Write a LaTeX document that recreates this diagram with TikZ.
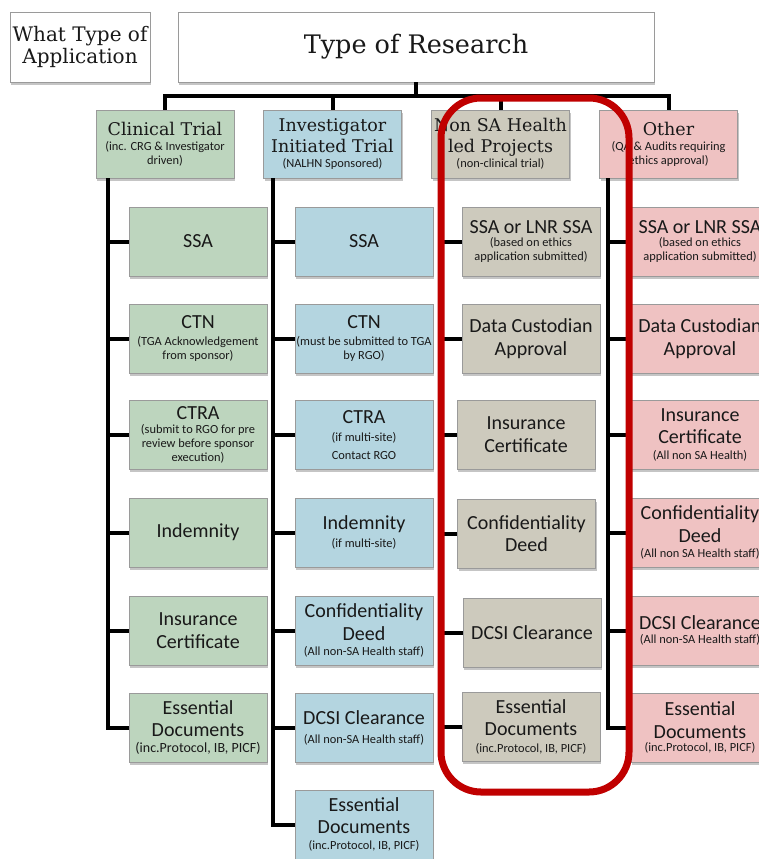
\documentclass[tikz,border=0pt]{standalone}
\usepackage{fontspec}
\setmainfont{Carlito}
\newfontfamily\slabfont{DejaVu Serif}
\usetikzlibrary{calc,shadows}

\definecolor{ctgreen}{HTML}{BDD5BE}
\definecolor{itblue}{HTML}{B4D5E0}
\definecolor{nsgrey}{HTML}{CDCABD}
\definecolor{otpink}{HTML}{EFC2C2}
\definecolor{ringred}{HTML}{C00000}
\definecolor{edgegrey}{HTML}{9A9A9A}

\newcommand{\titletxt}{\slabfont\fontsize{20}{23}\selectfont}
\newcommand{\headtxt}{\slabfont\fontsize{17.5}{21}\selectfont}
\newcommand{\itemtxt}{\fontsize{20}{22.5}\selectfont}
\newcommand{\notetxt}{\fontsize{12.4}{14}\selectfont}
\newcommand{\twopart}[3][3pt]{{\itemtxt #2\par}\vspace{#1}{\notetxt #3\par}}
\newcommand{\headpart}[2]{{\headtxt #1\par}\vspace{1pt}{\notetxt #2\par}}

\tikzset{
    box/.style={draw=edgegrey, line width=0.8pt, align=flush center, inner sep=1pt,
        minimum width=138pt, minimum height=69pt, text width=136pt, text=black!90,
        font=\itemtxt,
        drop shadow={shadow xshift=1pt, shadow yshift=-2.5pt, fill=black!45}},
    headbox/.style={box, minimum height=68pt},
    trunk/.style={line width=4pt, black},
    ring/.style={line width=7pt, ringred, rounded corners=40pt}
}

\begin{document}
\begin{tikzpicture}[x=1pt, y=-1pt]

\fill[white] (0,0) rectangle (759,859);
\useasboundingbox (0,0) rectangle (759,859);

% Top boxes
\node[box, fill=white, minimum width=140pt, minimum height=70pt, text width=138pt] (wta) at (80,47)
    {\titletxt What Type of\\Application};
\node[box, fill=white, minimum width=476pt, minimum height=70pt, text width=470pt] (tor) at (416,47)
    {\slabfont\fontsize{25.5}{30}\selectfont Type of Research};

% Research types
\node[headbox, fill=ctgreen] (ct) at (165,144)
    {\headpart{Clinical Trial}{(inc. CRG \& Investigator\\driven)}};
\node[headbox, fill=itblue] (it) at (332.5,144)
    {\headpart{Investigator\\Initiated Trial}{(NALHN Sponsored)}};
\node[headbox, fill=nsgrey] (ns) at (500.5,144)
    {\headpart{Non SA Health\\led Projects}{(non-clinical trial)}};
\node[headbox, fill=otpink] (ot) at (668.5,144)
    {\headpart{Other}{(QA \& Audits requiring\\ethics approval)}};

% Clinical Trial column
\node[box, fill=ctgreen] (ct1) at (198,241.5) {SSA};
\node[box, fill=ctgreen] (ct2) at (198,338.5)
    {\twopart{CTN}{(TGA Acknowledgement\\from sponsor)}};
\node[box, fill=ctgreen] (ct3) at (198,435)
    {\twopart[0pt]{CTRA}{(submit to RGO for pre\\review before sponsor\\execution)}};
\node[box, fill=ctgreen] (ct4) at (198,532.5) {Indemnity};
\node[box, fill=ctgreen] (ct5) at (198,630.5) {Insurance\\Certificate};
\node[box, fill=ctgreen] (ct6) at (198,727.5)
    {\twopart[0pt]{Essential\\Documents}{\fontsize{14}{16}\selectfont(inc.Protocol, IB, PICF)}};

% Investigator Initiated Trial column
\node[box, fill=itblue] (it1) at (364,241.5) {SSA};
\node[box, fill=itblue] (it2) at (364,338.5)
    {\twopart{CTN}{(must be submitted to TGA\\by RGO)}};
\node[box, fill=itblue] (it3) at (364,435)
    {\twopart[4pt]{CTRA}{(if multi-site)\\[4pt]Contact RGO}};
\node[box, fill=itblue] (it4) at (364,532.5)
    {\twopart[4pt]{Indemnity}{(if multi-site)}};
\node[box, fill=itblue] (it5) at (364,630.5)
    {\twopart[1pt]{Confidentiality\\Deed}{(All non-SA Health staff)}};
\node[box, fill=itblue] (it6) at (364,727.5)
    {\twopart[5pt]{DCSI Clearance}{(All non-SA Health staff)}};
\node[box, fill=itblue] (it7) at (364,824.5)
    {\twopart[2pt]{Essential\\Documents}{(inc.Protocol, IB, PICF)}};

% Non SA Health column
\node[box, fill=nsgrey] (ns1) at (531,241.5)
    {\twopart[-1pt]{SSA or LNR SSA}{(based on ethics\\application submitted)}};
\node[box, fill=nsgrey] (ns2) at (531,338.5) {Data Custodian\\Approval};
\node[box, fill=nsgrey] (ns3) at (526,434.5) {Insurance\\Certificate};
\node[box, fill=nsgrey] (ns4) at (526.5,533.5) {Confidentiality\\Deed};
\node[box, fill=nsgrey] (ns5) at (532,632.5) {DCSI Clearance};
\node[box, fill=nsgrey] (ns6) at (531,727)
    {\twopart[3pt]{Essential\\Documents}{(inc.Protocol, IB, PICF)}};

% Other column
\node[box, fill=otpink] (ot1) at (700,241.5)
    {\twopart[-1pt]{SSA or LNR SSA}{(based on ethics\\application submitted)}};
\node[box, fill=otpink] (ot2) at (700,338.5) {Data Custodian\\Approval};
\node[box, fill=otpink] (ot3) at (700,435)
    {\twopart[2pt]{Insurance\\Certificate}{(All non SA Health)}};
\node[box, fill=otpink] (ot4) at (700,532.5)
    {\twopart[1pt]{Confidentiality\\Deed}{(All non SA Health staff)}};
\node[box, fill=otpink] (ot5) at (700,630.5)
    {\twopart[0pt]{DCSI Clearance}{(All non-SA Health staff)}};
\node[box, fill=otpink] (ot6) at (700,727.5)
    {\twopart[-1pt]{Essential\\Documents}{(inc.Protocol, IB, PICF)}};

% Top connectors
\draw[trunk] (tor.south) -- ++(0,14) coordinate (hub);
\draw[trunk] (hub) -| (ct.north);
\draw[trunk] (hub) -| (it.north);
\draw[trunk] (hub) -| (ns.north);
\draw[trunk] (hub) -| (ot.north);

% Column trunks
\coordinate (ctroot) at ($(ct.south west)+(12,0)$);
\coordinate (itroot) at ($(it.south west)+(10,0)$);
\coordinate (nsroot) at ($(ns.south west)+(10,0)$);
\coordinate (otroot) at ($(ot.south west)+(9,0)$);
\draw[trunk] (ctroot) |- (ct1.west) (ctroot) |- (ct2.west) (ctroot) |- (ct3.west)
    (ctroot) |- (ct4.west) (ctroot) |- (ct5.west) (ctroot) |- (ct6.west);
\draw[trunk] (itroot) |- (it1.west) (itroot) |- (it2.west) (itroot) |- (it3.west)
    (itroot) |- (it4.west) (itroot) |- (it5.west) (itroot) |- (it6.west)
    (itroot) |- (it7.west);
\draw[trunk] (nsroot) |- (ns1.west) (nsroot) |- (ns2.west) (nsroot) |- (ns3.west)
    (nsroot) |- (ns4.west) (nsroot) |- (ns5.west) (nsroot) |- (ns6.west);
\draw[trunk] (otroot) |- (ot1.west) (otroot) |- (ot2.west) (otroot) |- (ot3.west)
    (otroot) |- (ot4.west) (otroot) |- (ot5.west) (otroot) |- (ot6.west);

% Highlight
\draw[ring] (441,98) rectangle (629,792);

\end{tikzpicture}
\end{document}
